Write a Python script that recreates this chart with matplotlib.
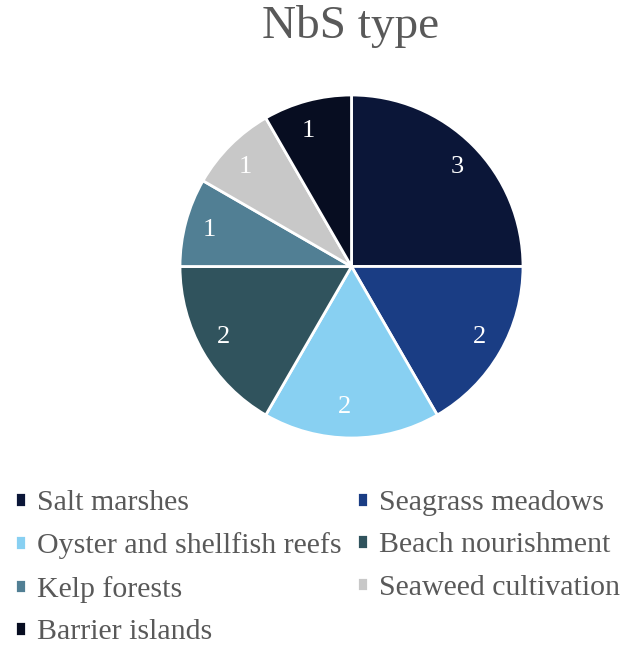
import matplotlib
matplotlib.use("Agg")
from matplotlib import pyplot as plt

categories = ["Salt marshes", "Seagrass meadows", "Oyster and shellfish reefs",
              "Beach nourishment", "Kelp forests", "Seaweed cultivation",
              "Barrier islands"]
counts = [3, 2, 2, 2, 1, 1, 1]
colors = ["#0b1638", "#1a3d84", "#88d0f2", "#30535d", "#517f94", "#c8c8c8", "#070d21"]

plt.rcParams['font.family'] = ['Liberation Serif']

fig = plt.figure(figsize=(6.4, 6.54), dpi=100)
ax = fig.add_axes([180 / 640, (654 - 438) / 654, 343 / 640, 343 / 654])

wedges, texts = ax.pie(counts, colors=colors, startangle=90, counterclock=False,
                       labels=[str(c) for c in counts], labeldistance=0.82,
                       wedgeprops=dict(edgecolor="white", linewidth=2),
                       textprops=dict(color="white", fontsize=19))
ax.set_xlim(-1, 1)
ax.set_ylim(-1, 1)

fig.text(351 / 640, 1 - 27 / 654, "NbS type", ha="center", va="center",
         fontsize=34, color="#595959")

# legend filled row by row, like the original
order = [0, 2, 4, 6, 1, 3, 5]
fig.legend([wedges[i] for i in order], [categories[i] for i in order],
           loc="upper left", bbox_to_anchor=(15 / 640, 1 - 490 / 654),
           ncol=2, frameon=False, fontsize=21.5, handlelength=0.37, handleheight=0.37,
           handletextpad=0.37, labelspacing=0.55, columnspacing=0.5,
           labelcolor="#595959", borderaxespad=0, borderpad=0)

fig.savefig("out.png", dpi=100)
